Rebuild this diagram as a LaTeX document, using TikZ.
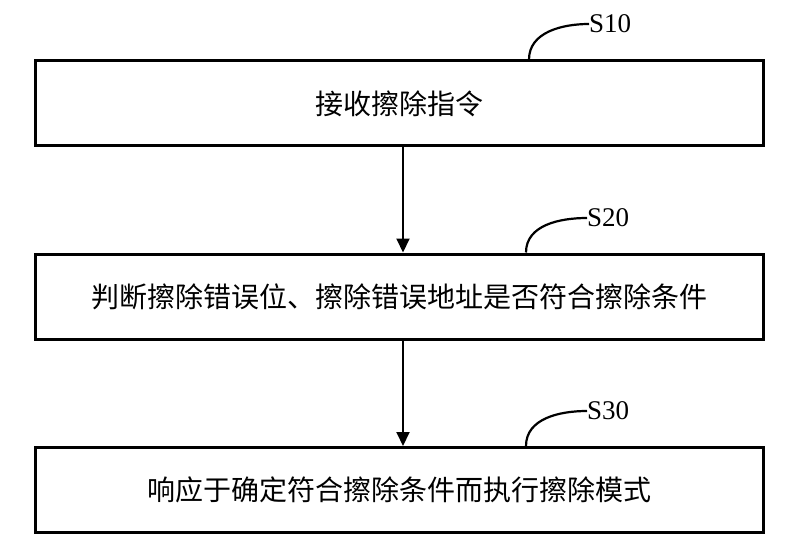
\documentclass[tikz,border=0pt]{standalone}
\usepackage{fontspec}
\setmainfont{Liberation Serif}
\newfontfamily\cjk{Noto Sans CJK SC}
\usetikzlibrary{arrows.meta}
\tikzset{
  stepbox/.style={draw=black, line width=3pt, minimum width=728pt, minimum height=85pt, inner sep=0pt, font=\cjk\fontsize{28}{32}\selectfont},
  flowarrow/.style={line width=2pt, -{Triangle[length=14pt,width=13pt]}},
  tagline/.style={line width=2.2pt},
  taglabel/.style={anchor=west, inner sep=0pt, font=\fontsize{27}{30}\selectfont}
}
\begin{document}
\begin{tikzpicture}[x=1pt,y=-1pt]
\useasboundingbox (0,0) rectangle (794,545);
\node[stepbox] (b1) at (399,103.5) {接收擦除指令};
\node[stepbox] (b2) at (399,296.5) {判断擦除错误位、擦除错误地址是否符合擦除条件};
\node[stepbox] (b3) at (399,490) {响应于确定符合擦除条件而执行擦除模式};
\draw[flowarrow] ([xshift=4pt]b1.south) -- ([xshift=4pt]b2.north);
\draw[flowarrow] ([xshift=4pt]b2.south) -- ([xshift=4pt]b3.north);
\node[taglabel] (t1) at (589,24) {S10};
\node[taglabel] (t2) at (587,218) {S20};
\node[taglabel] (t3) at (587,411) {S30};
\draw[tagline] ([xshift=130pt]b1.north) to[out=90,in=180] (t1.west);
\draw[tagline] ([xshift=127pt]b2.north) to[out=90,in=180] (t2.west);
\draw[tagline] ([xshift=127pt]b3.north) to[out=90,in=180] (t3.west);
\end{tikzpicture}
\end{document}
